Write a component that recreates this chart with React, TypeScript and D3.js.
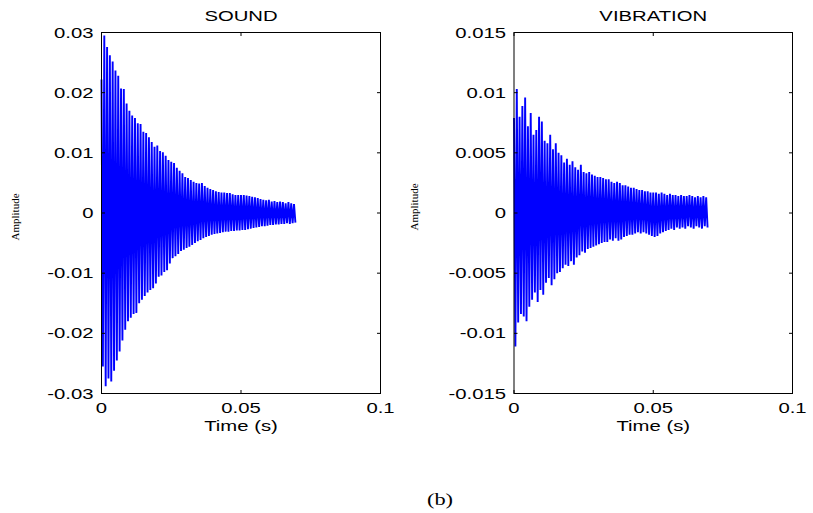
import React from 'react';
import * as d3 from 'd3';

// ---- data ----
const SAMPLE_STEP = 0.0005; // s between a peak and the following trough

const soundPeaks = [
  0.0222, 0.0295, 0.0276, 0.0262, 0.0252, 0.0237, 0.0228, 0.0207, 0.0206, 0.0182,
  0.0170, 0.0162, 0.0158, 0.0149, 0.0148, 0.0135, 0.0133, 0.0126, 0.0118, 0.0110,
  0.0112, 0.0103, 0.0101, 0.0095, 0.0088, 0.0085, 0.0083, 0.0075, 0.0070, 0.0066,
  0.0060, 0.0058, 0.0055, 0.0052, 0.0050, 0.0049, 0.0050, 0.0045, 0.0042, 0.0040,
  0.0038, 0.0036, 0.0035, 0.0034, 0.0034, 0.0033, 0.0033, 0.0031, 0.0030, 0.0030,
  0.0030, 0.0030, 0.0029, 0.0028, 0.0027, 0.0026, 0.0025, 0.0023, 0.0022, 0.0021,
  0.0022, 0.0019, 0.0020, 0.0018, 0.0019, 0.0018, 0.0016, 0.0018, 0.0016, 0.0015,
];
const soundTroughs = [
  -0.0255, -0.0288, -0.0275, -0.0280, -0.0262, -0.0245, -0.0230, -0.0212, -0.0194, -0.0180,
  -0.0174, -0.0168, -0.0166, -0.0150, -0.0144, -0.0138, -0.0132, -0.0128, -0.0125, -0.0117,
  -0.0106, -0.0104, -0.0098, -0.0095, -0.0084, -0.0075, -0.0072, -0.0068, -0.0063, -0.0061,
  -0.0058, -0.0056, -0.0053, -0.0050, -0.0047, -0.0045, -0.0042, -0.0040, -0.0038, -0.0036,
  -0.0035, -0.0034, -0.0033, -0.0032, -0.0031, -0.0031, -0.0030, -0.0030, -0.0029, -0.0029,
  -0.0028, -0.0028, -0.0027, -0.0026, -0.0025, -0.0024, -0.0023, -0.0022, -0.0022, -0.0021,
  -0.0020, -0.0020, -0.0019, -0.0019, -0.0018, -0.0018, -0.0017, -0.0018, -0.0017, -0.0016,
];
const vibrationPeaks = [
  0.0079, 0.0103, 0.0080, 0.0089, 0.0096, 0.0072, 0.0083, 0.0065, 0.0069, 0.0080,
  0.0076, 0.0060, 0.0058, 0.0065, 0.0053, 0.0058, 0.0050, 0.0048, 0.0042, 0.0045,
  0.0040, 0.0043, 0.0038, 0.0036, 0.0040, 0.0034, 0.0033, 0.0034, 0.0032, 0.0031,
  0.0030, 0.0030, 0.0029, 0.0028, 0.0028, 0.0026, 0.0025, 0.0026, 0.0025, 0.0023,
  0.0023, 0.0022, 0.0021, 0.0021, 0.0020, 0.0019, 0.0019, 0.0018, 0.0018, 0.0017,
  0.0017, 0.0017, 0.0016, 0.0017, 0.0016, 0.0015, 0.0016, 0.0015, 0.0015, 0.0014,
  0.0015, 0.0014, 0.0014, 0.0015, 0.0014, 0.0013, 0.0014, 0.0013, 0.0014, 0.0013,
];
const vibrationTroughs = [
  -0.0111, -0.0091, -0.0084, -0.0086, -0.0090, -0.0078, -0.0072, -0.0066, -0.0074, -0.0064,
  -0.0068, -0.0058, -0.0054, -0.0060, -0.0055, -0.0050, -0.0049, -0.0046, -0.0043, -0.0044,
  -0.0040, -0.0043, -0.0037, -0.0035, -0.0032, -0.0033, -0.0030, -0.0029, -0.0028, -0.0027,
  -0.0026, -0.0025, -0.0024, -0.0024, -0.0022, -0.0023, -0.0021, -0.0023, -0.0022, -0.0020,
  -0.0019, -0.0018, -0.0018, -0.0017, -0.0016, -0.0017, -0.0016, -0.0017, -0.0018, -0.0019,
  -0.0020, -0.0019, -0.0017, -0.0016, -0.0015, -0.0014, -0.0013, -0.0014, -0.0012, -0.0013,
  -0.0012, -0.0013, -0.0011, -0.0012, -0.0013, -0.0011, -0.0012, -0.0013, -0.0011, -0.0012,
];

const soundYTicks = [0.03, 0.02, 0.01, 0, -0.01, -0.02, -0.03];
const soundYLabels = ['0.03', '0.02', '0.01', '0', '-0.01', '-0.02', '-0.03'];
const vibYTicks = [0.015, 0.01, 0.005, 0, -0.005, -0.01, -0.015];
const vibYLabels = ['0.015', '0.01', '0.005', '0', '-0.005', '-0.01', '-0.015'];
const xTicks = [0, 0.05, 0.1];
const xTickLabels = ['0', '0.05', '0.1'];

const SX = 1.45; // horizontal stretch of the original figure text
const SANS = '"Liberation Sans", Arial, sans-serif';
const SERIF = '"Liberation Serif", "Times New Roman", serif';

type PanelProps = {
  left: number; right: number; top: number; bottom: number;
  yMax: number; peaks: number[]; troughs: number[];
  yTicks: number[]; yLabels: string[]; title: string;
  ylabX: number; ylabY: number;
};

function Panel({ left, right, top, bottom, yMax, peaks, troughs, yTicks, yLabels, title, ylabX, ylabY }: PanelProps) {
  const x = d3.scaleLinear().domain([0, 0.1]).range([left, right]);
  const y = d3.scaleLinear().domain([-yMax, yMax]).range([bottom, top]);
  const pts: [number, number][] = [];
  peaks.forEach((p, k) => {
    pts.push([2 * k * SAMPLE_STEP, p]);
    pts.push([(2 * k + 1) * SAMPLE_STEP, troughs[k]]);
  });
  const line = d3.line<[number, number]>().x(d => x(d[0])).y(d => y(d[1]));
  const tl = 3.5;
  const cx = (left + right) / 2;
  return (
    <g>
      <path d={line(pts) || ''} fill="none" stroke="#0000ff" strokeWidth={1.9} strokeLinejoin="bevel" />
      <rect x={left} y={top} width={right - left} height={bottom - top} fill="none" stroke="#000" strokeWidth={1} />
      {yTicks.map((t, i) => (
        <g key={'y' + i}>
          <line x1={left} x2={left + tl} y1={y(t)} y2={y(t)} stroke="#000" />
          <line x1={right} x2={right - tl} y1={y(t)} y2={y(t)} stroke="#000" />
          <text transform={`translate(${left - 8},${y(t) + 5}) scale(${SX},1)`} textAnchor="end"
            fontFamily={SANS} fontSize={14} fill="#000">{yLabels[i]}</text>
        </g>
      ))}
      {xTicks.map((t, i) => (
        <g key={'x' + i}>
          <line x1={x(t)} x2={x(t)} y1={bottom} y2={bottom - tl} stroke="#000" />
          <line x1={x(t)} x2={x(t)} y1={top} y2={top + tl} stroke="#000" />
          <text transform={`translate(${x(t)},${bottom + 19}) scale(${SX},1)`} textAnchor="middle"
            fontFamily={SANS} fontSize={14} fill="#000">{xTickLabels[i]}</text>
        </g>
      ))}
      <text transform={`translate(${cx},20.5) scale(${SX},1)`} textAnchor="middle"
        fontFamily={SANS} fontSize={14} fill="#000">{title}</text>
      <text transform={`translate(${cx},${bottom + 37}) scale(${SX},1)`} textAnchor="middle"
        fontFamily={SANS} fontSize={14} fill="#000">Time (s)</text>
      <text transform={`translate(${ylabX},${ylabY}) rotate(-90)`} textAnchor="middle"
        fontFamily={SERIF} fontSize={11} fill="#000">Amplitude</text>
    </g>
  );
}

export default function App() {
  return (
    <svg width={813} height={513} style={{ position: 'absolute', left: 0, top: 0, background: '#fff' }}>
      <rect x={0} y={0} width={813} height={513} fill="#fff" />
      <Panel left={101.5} right={380.5} top={32.5} bottom={393.5} yMax={0.03}
        peaks={soundPeaks} troughs={soundTroughs} yTicks={soundYTicks} yLabels={soundYLabels}
        title="SOUND" ylabX={19} ylabY={217} />
      <Panel left={514} right={792.5} top={32.5} bottom={393.5} yMax={0.015}
        peaks={vibrationPeaks} troughs={vibrationTroughs} yTicks={vibYTicks} yLabels={vibYLabels}
        title="VIBRATION" ylabX={418} ylabY={207} />
      <text transform={`translate(440,505) scale(1.4,1)`} textAnchor="middle"
        fontFamily={SERIF} fontSize={16} fill="#000">(b)</text>
    </svg>
  );
}
